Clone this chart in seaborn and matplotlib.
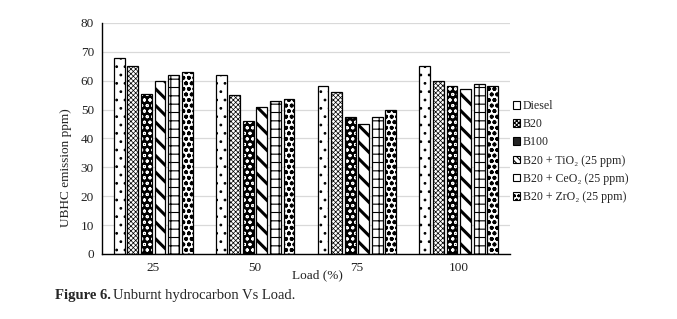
import matplotlib.pyplot as plt
import matplotlib.patches as mpatches
import pandas as pd
import seaborn as sns

LOADS = ["25", "50", "75", "100"]
FUELS = [
    "Diesel",
    "B20",
    "B100",
    "B20 + TiO₂ (25 ppm)",
    "B20 + CeO₂ (25 ppm)",
    "B20 + ZrO₂ (25 ppm)",
]
DIESEL = [68, 62, 58, 65]
B20 = [65, 55, 56, 60]
B100 = [55.5, 46, 47.5, 58]
B20_TIO2 = [60, 51, 45, 57]
B20_CEO2 = [62, 53, 47.5, 59]
B20_ZRO2 = [63, 53.5, 50, 58]

# (hatch, face, hatch colour, hatch line width, legend hatch) per fuel
STYLES = [
    ("..", "white", "black", 0.8, None),
    ("xxxxxxx", "white", "black", 0.5, "xxxxxxxx"),
    ("ooo", "black", "white", 0.7, None),
    ("\\\\", "white", "black", 2.2, "\\\\\\\\\\"),
    ("++", "white", "black", 0.8, None),
    ("ooo", "white", "black", 1.2, "oooo"),
]


def style_patch(ax, p, hatch, face, hcol, hlw):
    # hatch is drawn in the edge colour, so the outline goes on a copy
    p.set_facecolor(face)
    p.set_edgecolor(hcol)
    p.set_hatch(hatch)
    p.set_linewidth(0)
    if hasattr(p, "set_hatch_linewidth"):
        p.set_hatch_linewidth(hlw)
    ax.add_patch(mpatches.Rectangle(p.get_xy(), p.get_width(),
                                    p.get_height(), fill=False,
                                    edgecolor="black", linewidth=0.9,
                                    zorder=p.get_zorder() + 0.1))


def main():
    sns.set_theme(style="white")
    plt.rcParams["font.family"] = ["Liberation Serif", "DejaVu Serif"]
    plt.rcParams["hatch.linewidth"] = 0.8

    series = [DIESEL, B20, B100, B20_TIO2, B20_CEO2, B20_ZRO2]
    rows = []
    for fuel, vals in zip(FUELS, series):
        for load, v in zip(LOADS, vals):
            rows.append({"load": load, "fuel": fuel, "ppm": v})
    df = pd.DataFrame(rows)

    fig = plt.figure(figsize=(6.77, 3.19), dpi=100)
    ax = fig.add_axes([0.151, 0.204, 0.602, 0.724])
    sns.barplot(data=df, x="load", y="ppm", hue="fuel", order=LOADS,
                hue_order=FUELS, width=0.8, gap=0.2, ax=ax, legend=False,
                errorbar=None)

    for cont, st in zip(ax.containers, STYLES):
        for p in cont:
            style_patch(ax, p, *st[:4])

    ax.set_ylim(0, 80)
    ax.set_xlim(-0.5, 3.5)
    ax.set_yticks(range(0, 81, 10))
    ax.yaxis.grid(True, color="#d9d9d9", linewidth=0.9)
    ax.set_axisbelow(True)
    for s in ["top", "right"]:
        ax.spines[s].set_visible(False)
    for s in ["left", "bottom"]:
        ax.spines[s].set_color("black")
        ax.spines[s].set_linewidth(1.0)
        ax.spines[s].set_zorder(5)
    ax.tick_params(length=0, labelsize=9.5, colors="#222222", pad=6)
    ax.set_xlabel("")
    ax.set_ylabel("")

    fig.text(317 / 677, 1 - 275 / 319, "Load (%)", ha="center", va="center",
             fontsize=9.5, color="#222222")
    fig.text(66 / 677, 1 - 168 / 319, "UBHC emission ppm)", rotation=90,
             ha="center", va="center", fontsize=9.5, color="#222222")
    fig.text(55 / 677, 1 - 295 / 319, "Figure 6.", fontweight="bold",
             ha="left", va="center", fontsize=10.5)
    fig.text(113 / 677, 1 - 295 / 319, "Unburnt hydrocarbon Vs Load.",
             ha="left", va="center", fontsize=10.5)

    handles = []
    for fuel, (_h, face, hcol, _lw, lhatch) in zip(FUELS, STYLES):
        p = mpatches.Patch(label=fuel, facecolor=face, edgecolor="black",
                           hatch=lhatch, linewidth=0.8)
        if hcol == "white":
            p.set_facecolor("#222222")
        handles.append(p)
    fig.legend(handles=handles, loc="upper left",
               bbox_to_anchor=(513 / 677, 1 - 100 / 319), frameon=False,
               fontsize=8.6, handlelength=0.6, handleheight=0.6,
               handletextpad=0.2, labelspacing=0.52, borderaxespad=0,
               borderpad=0)

    fig.savefig("out.png", dpi=100)
    plt.close(fig)


if __name__ == "__main__":
    main()
